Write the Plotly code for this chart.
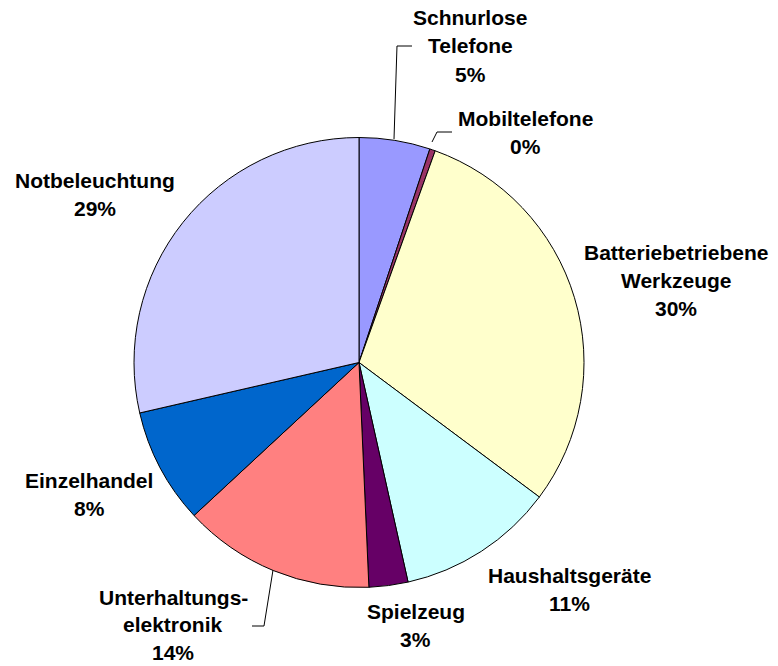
import plotly.graph_objects as go

# Anteile der Einsatzbereiche (in %)
categories = [
    "Schnurlose Telefone",
    "Mobiltelefone",
    "Batteriebetriebene Werkzeuge",
    "Haushaltsgeräte",
    "Spielzeug",
    "Unterhaltungselektronik",
    "Einzelhandel",
    "Notbeleuchtung",
]
values = [5.1, 0.4, 29.7, 11.3, 2.8, 13.8, 8.3, 28.6]
label_lines = [
    ["Schnurlose", "Telefone"],
    ["Mobiltelefone"],
    ["Batteriebetriebene", "Werkzeuge"],
    ["Haushaltsgeräte"],
    ["Spielzeug"],
    ["Unterhaltungs-", "elektronik"],
    ["Einzelhandel"],
    ["Notbeleuchtung"],
]
colors = ["#9999FF", "#993366", "#FFFFCC", "#CCFFFF",
          "#660066", "#FF8080", "#0066CC", "#CCCCFF"]

W, H = 778, 666
CX, CY, R = 359, 362.5, 225

# label anchor (center x, first-line center y, line height) in pixels
label_pos = [
    (470, 17, 28.5), (525, 118, 28.5), (676, 252, 28.5), (569, 575, 28.5),
    (416, 611, 28.5), (173, 597, 27.5), (89, 480, 28.5), (95, 180, 28.5),
]

# leader lines (pixel polylines)
leaders = [
    [(394, 139), (397, 46), (412, 46)],
    [(432, 142), (437, 132), (452, 132)],
    [(273, 570), (264, 626), (252, 626)],
]

def px(x):
    return x / W

def py(y):
    return 1 - y / H

fig = go.Figure(go.Pie(
    labels=categories,
    values=values,
    sort=False,
    direction="clockwise",
    rotation=0,
    textinfo="none",
    hoverinfo="label+percent",
    marker=dict(colors=colors, line=dict(color="#000000", width=1)),
    domain=dict(x=[px(CX - R), px(CX + R)], y=[py(CY + R), py(CY - R)]),
    showlegend=False,
))

total = sum(values)
font = dict(family="Arial, 'Liberation Sans', sans-serif", size=21,
            color="#000000", weight="bold")
annotations = []
for lines, v, (x0, y0, lh) in zip(label_lines, values, label_pos):
    pct = f"{round(100 * v / total):d}%"
    for i, t in enumerate(lines + [pct]):
        annotations.append(dict(
            x=px(x0), y=py(y0 + i * lh), xref="paper", yref="paper",
            text=t, showarrow=False, xanchor="center", yanchor="middle",
            font=font,
        ))

shapes = []
for pts in leaders:
    path = "M " + " L ".join(f"{px(x):.5f},{py(y):.5f}" for x, y in pts)
    shapes.append(dict(type="path", path=path, xref="paper", yref="paper",
                       line=dict(color="#000000", width=1)))

fig.update_layout(
    width=W, height=H,
    margin=dict(l=0, r=0, t=0, b=0),
    paper_bgcolor="#FFFFFF",
    plot_bgcolor="#FFFFFF",
    annotations=annotations,
    shapes=shapes,
)

fig.write_html("out.html")
